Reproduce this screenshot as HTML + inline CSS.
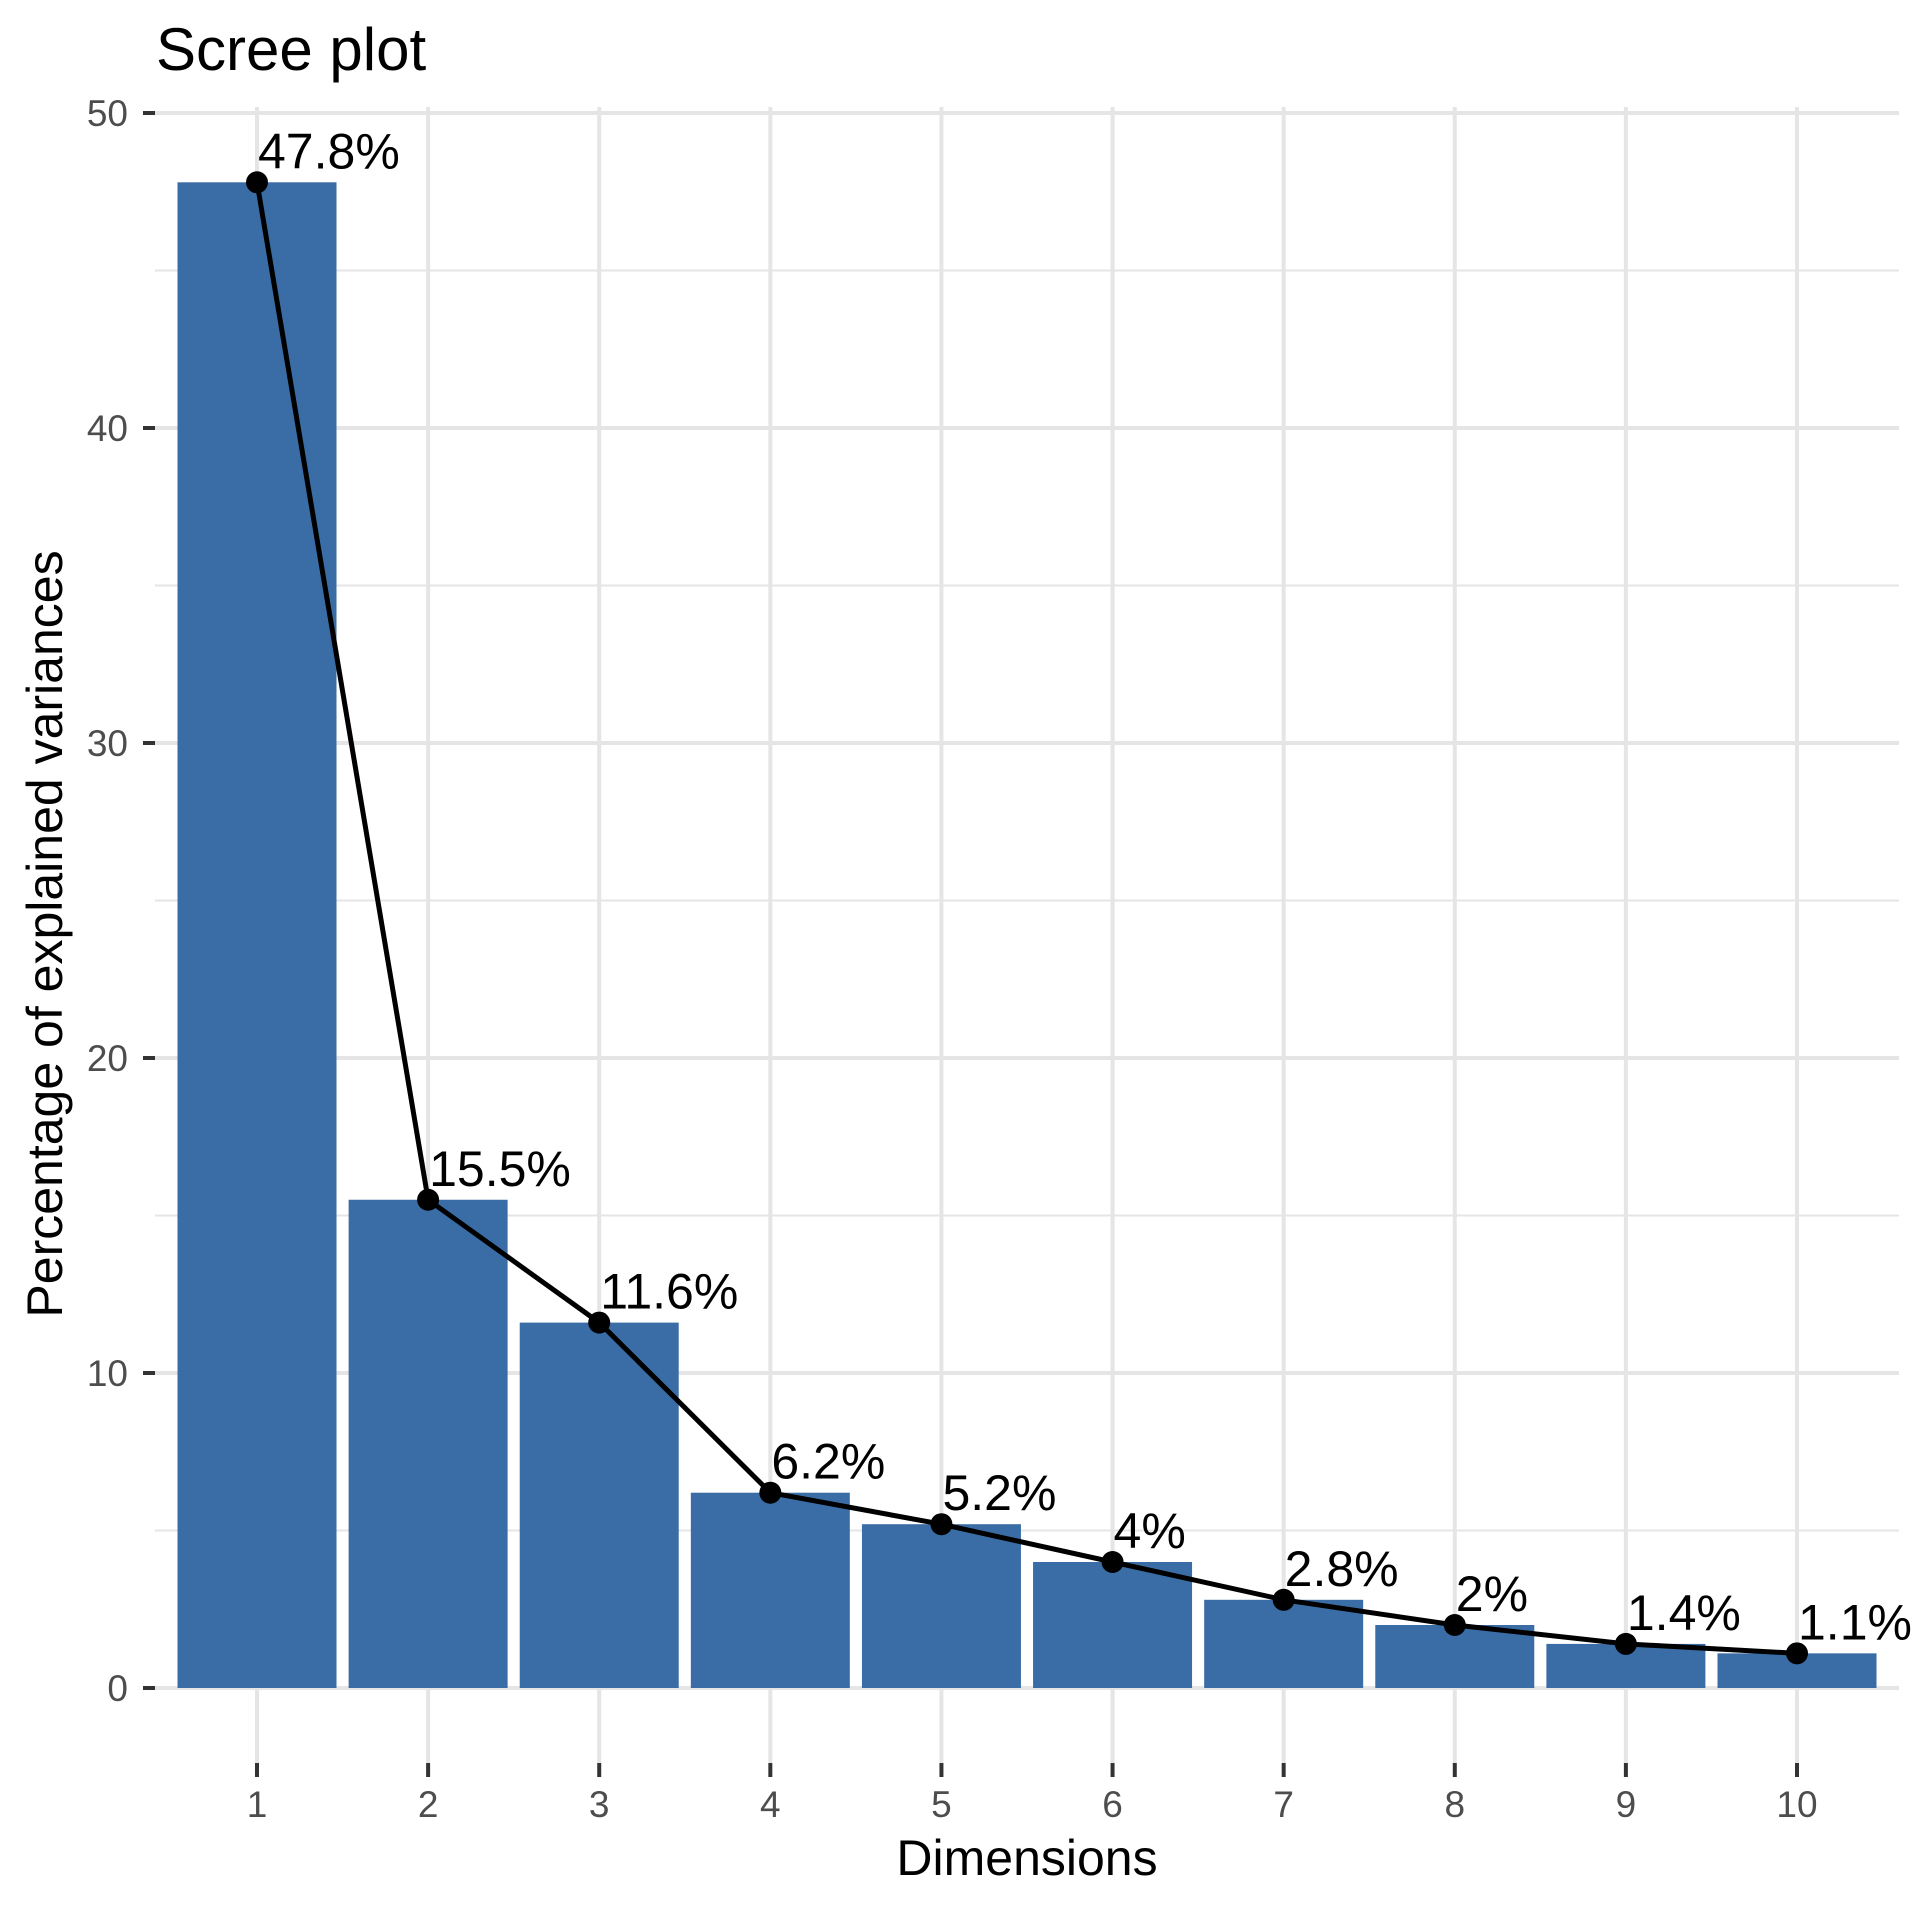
<!DOCTYPE html>
<html><head><meta charset="utf-8"><style>
html,body{margin:0;padding:0;background:#fff;}
svg{display:block;font-family:"Liberation Sans",Arial,sans-serif;}
</style></head><body>
<svg id="chart" width="1925" height="1911" viewBox="0 0 1925 1911" xmlns="http://www.w3.org/2000/svg">
<rect x="0" y="0" width="1925" height="1911" fill="#fff"/>
<g id="grid"></g><g id="bars"></g><g id="line"></g><g id="axes"></g>
<text x="156" y="70" font-size="60" fill="#000">Scree plot</text>
<text x="1027" y="1875" font-size="50" text-anchor="middle" fill="#000">Dimensions</text>
<text transform="translate(62,934) rotate(-90)" font-size="50" text-anchor="middle" fill="#000">Percentage of explained variances</text>
</svg>
<script>
const categories = ["1","2","3","4","5","6","7","8","9","10"];
const values = [47.8, 15.5, 11.6, 6.2, 5.2, 4.0, 2.8, 2.0, 1.4, 1.1];
const valueLabels = ["47.8%","15.5%","11.6%","6.2%","5.2%","4%","2.8%","2%","1.4%","1.1%"];
const yTicks = [0, 10, 20, 30, 40, 50];
const yMinor = [5, 15, 25, 35, 45];

const NS = "http://www.w3.org/2000/svg";
const panel = {left:155, right:1899, top:107, bottom:1763};
const yScale = v => 1688 - v * 31.5;
const step = (1797 - 257) / 9;
const xScale = i => 257 + i * step;
function mk(tag, attrs, parent){ const e=document.createElementNS(NS,tag); for(const k in attrs) e.setAttribute(k,attrs[k]); parent.appendChild(e); return e; }
const grid=document.getElementById('grid'), bars=document.getElementById('bars'), line=document.getElementById('line'), axes=document.getElementById('axes');

yMinor.forEach(v=>{
  const l=mk('line',{x1:panel.left,x2:panel.right,y1:yScale(v),y2:yScale(v),stroke:'#e5e5e5','stroke-width':2},grid);
  
  
});
yTicks.forEach(v=>{
  const l=mk('line',{x1:panel.left,x2:panel.right,y1:yScale(v),y2:yScale(v),stroke:'#e5e5e5','stroke-width':4},grid);
  
  
  const t=mk('line',{x1:143,x2:155,y1:yScale(v),y2:yScale(v),stroke:'#333','stroke-width':4},axes);
  
  
  const tx=mk('text',{x:128,y:yScale(v)+13,'font-size':37,'text-anchor':'end',fill:'#4d4d4d'},axes);
  tx.textContent=v;
  
  
});
categories.forEach((c,i)=>{
  const x=xScale(i);
  const g=mk('line',{x1:x,x2:x,y1:panel.top,y2:panel.bottom,stroke:'#e5e5e5','stroke-width':4},grid);
  
  
  const t=mk('line',{x1:x,x2:x,y1:1763,y2:1777,stroke:'#333','stroke-width':4},axes);
  
  
  const tx=mk('text',{x:x,y:1817,'font-size':37,'text-anchor':'middle',fill:'#4d4d4d'},axes);
  tx.textContent=c;
  
  
  const bw=159;
  const b=mk('rect',{x:x-bw/2,y:yScale(values[i]),width:bw,height:yScale(0)-yScale(values[i]),fill:'#3A6DA5'},bars);
  
  
});
const pts=values.map((v,i)=>xScale(i)+','+yScale(v)).join(' ');
const pl=mk('polyline',{points:pts,fill:'none',stroke:'#000','stroke-width':5},line);


values.forEach((v,i)=>{
  const c=mk('circle',{cx:xScale(i),cy:yScale(v),r:11,fill:'#000'},line);
  
  
  const t=mk('text',{x:xScale(i)+1,y:yScale(v)-14,'font-size':50,fill:'#000'},line);
  t.textContent=valueLabels[i];
  
  
});
</script>
</body></html>
